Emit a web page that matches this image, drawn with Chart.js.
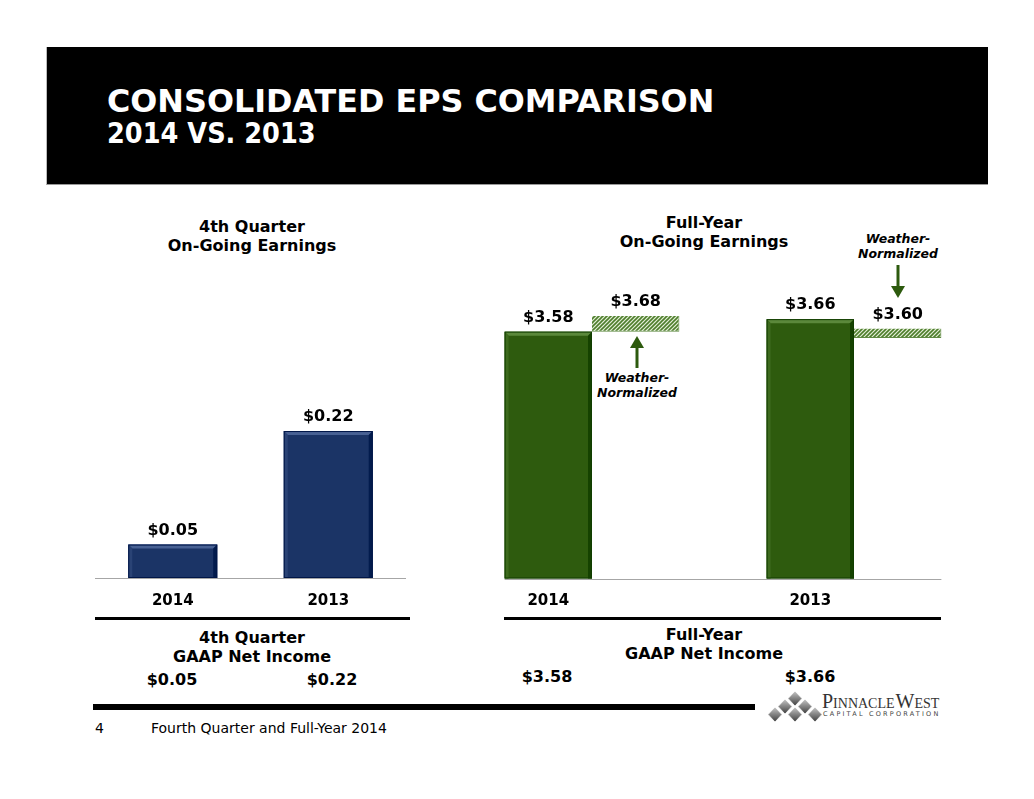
<!DOCTYPE html>
<html>
<head>
<meta charset="utf-8">
<script src="https://cdn.jsdelivr.net/npm/chart.js@4.4.1/dist/chart.umd.min.js"></script>
<style>
  html, body { margin: 0; padding: 0; background: #fff; }
  #slide { position: relative; width: 1034px; height: 799px; overflow: hidden; font-family: "DejaVu Sans", Verdana, sans-serif; color: #000; }
  .header { position: absolute; left: 46px; top: 47px; width: 941px; height: 137px; background: #000; border-bottom: 1px solid #999; border-left: 1px solid #bbb; }
  .title { position: absolute; left: 60px; color: #fff; font-weight: bold; white-space: nowrap; }
  .t { position: absolute; transform: translate(-50%, -50%); white-space: nowrap; font-weight: bold; font-size: 16px; line-height: 19px; text-align: center; }
  .wn { font-size: 12.5px; line-height: 15px; font-style: italic; }
  .rule { position: absolute; height: 3px; background: #000; }
  .box { position: absolute; }
</style>
</head>
<body>
<div id="slide">
  <div class="header">
    <div class="title" style="top: 35px; font-size: 31.8px; font-family: 'DejaVu Sans', sans-serif;">CONSOLIDATED EPS COMPARISON</div>
    <div class="title" style="top: 70px; font-size: 28.5px; font-family: 'DejaVu Sans Condensed', 'DejaVu Sans', sans-serif;">2014 VS. 2013</div>
  </div>

  <div class="t" style="left: 252px; top: 236px;">4th Quarter<br>On-Going Earnings</div>
  <div class="t" style="left: 704px; top: 232px;">Full-Year<br>On-Going Earnings</div>

  <div class="t wn" style="left: 898px; top: 246px;">Weather-<br>Normalized</div>
  <div class="t wn" style="left: 637px; top: 385px;">Weather-<br>Normalized</div>

  <svg class="box" style="left: 0; top: 0;" width="1034" height="799">
    <g fill="#2d5a0e" stroke="#2d5a0e">
      <line x1="637" y1="346" x2="637" y2="368" stroke-width="3"/>
      <polygon points="637,336 630,348 644,348" stroke="none"/>
      <line x1="898" y1="265" x2="898" y2="288" stroke-width="3"/>
      <polygon points="898,298 891,286 905,286" stroke="none"/>
    </g>
  </svg>

  <div class="box" id="qtrBox" style="left: 95px; top: 244px; width: 311px; height: 372px;"><canvas id="qtrChart"></canvas></div>
  <div class="box" id="fyBox" style="left: 461px; top: 265.5px; width: 524px; height: 350.5px;"><canvas id="fyChart"></canvas></div>

  <div class="rule" style="left: 95px; top: 617px; width: 315px;"></div>
  <div class="rule" style="left: 504px; top: 617px; width: 437px;"></div>

  <div class="t" style="left: 252px; top: 647px;">4th Quarter<br>GAAP Net Income</div>
  <div class="t" style="left: 704px; top: 644px;">Full-Year<br>GAAP Net Income</div>
  <div id="gaapLabels"></div>

  <div class="box" style="left: 93px; top: 704px; width: 662px; height: 6px; background: #000;"></div>
  <div class="box" style="left: 95px; top: 720px; font-size: 14px;">4</div>
  <div class="box" style="left: 151px; top: 720px; font-size: 14px;">Fourth Quarter and Full-Year 2014</div>

  <svg class="box" style="left: 767px; top: 689px;" width="56" height="34">
    <defs>
      <linearGradient id="dg" x1="0" y1="0" x2="0" y2="1">
        <stop offset="0" stop-color="#c8c8c8"/>
        <stop offset="1" stop-color="#3c3c3c"/>
      </linearGradient>
    </defs>
    <g fill="url(#dg)" stroke="#fff" stroke-width="0.8">
      <polygon points="28,2 35,9.5 28,17 21,9.5"/>
      <polygon points="18,10 25,17.5 18,25 11,17.5"/>
      <polygon points="38,10 45,17.5 38,25 31,17.5"/>
      <polygon points="8,18 15,25.5 8,33 1,25.5"/>
      <polygon points="28,18 35,25.5 28,33 21,25.5"/>
      <polygon points="48,18 55,25.5 48,33 41,25.5"/>
    </g>
  </svg>
  <div class="box" style="left: 822px; top: 690px; font-family: 'Liberation Serif', serif; font-variant: small-caps; font-size: 20px; color: #333;">Pinnacle<span style="margin-left: 1px;">West</span></div>
  <div class="box" style="left: 823px; top: 710px; font-family: 'DejaVu Sans', sans-serif; font-size: 6.5px; letter-spacing: 2.2px; color: #444;">CAPITAL CORPORATION</div>
</div>

<script>
// 4th quarter on-going EPS
const qtrYears = ['2014', '2013'];
const qtrOngoing = [0.05, 0.22];
const qtrGaap = [0.05, 0.22];

// full-year on-going EPS and weather-normalized figures
const fyYears = ['2014', '2013'];
const fyOngoing = [3.58, 3.66];
const fyWeatherNorm = [3.68, 3.60];
const fyGaap = [3.58, 3.66];

const navy = '#1b3466';
const green = '#2e5b0e';
const hatchDepth = [0.10, 0.06];   // thickness of the weather-normalized markers

const money = v => '$' + v.toFixed(2);

function hatchPattern() {
    const c = document.createElement('canvas');
    c.width = 4; c.height = 4;
    const g = c.getContext('2d');
    g.fillStyle = '#e4eed8';
    g.fillRect(0, 0, 4, 4);
    g.strokeStyle = '#4e7e2c';
    g.lineWidth = 1.6;
    g.beginPath();
    g.moveTo(0, 4); g.lineTo(4, 0);
    g.moveTo(-1, 1); g.lineTo(1, -1);
    g.moveTo(3, 5); g.lineTo(5, 3);
    g.stroke();
    return g.createPattern(c, 'repeat');
}

function shade(hex, amt) {
    const n = parseInt(hex.slice(1), 16);
    const ch = s => Math.max(0, Math.min(255, ((n >> s) & 255) + amt));
    return `rgb(${ch(16)},${ch(8)},${ch(0)})`;
}

// baseline, bevel edges and value labels
const slidePlugin = {
    id: 'slide',
    beforeDatasetsDraw(chart, args, opts) {
        const ctx = chart.ctx;
        let left = chart.chartArea.left, right = chart.chartArea.right;
        if (opts.baseline === 'bars') {
            left = Infinity; right = -Infinity;
            chart.data.datasets.forEach((ds, i) => {
                chart.getDatasetMeta(i).data.forEach(el => {
                    const p = el.getProps(['x', 'width'], true);
                    left = Math.min(left, p.x - p.width / 2);
                    right = Math.max(right, p.x + p.width / 2);
                });
            });
        }
        const y = Math.round(chart.chartArea.bottom) + 0.5;
        ctx.save();
        ctx.strokeStyle = '#a6a6a6';
        ctx.lineWidth = 1;
        ctx.beginPath();
        ctx.moveTo(left, y);
        ctx.lineTo(right, y);
        ctx.stroke();
        ctx.restore();
    },
    afterDatasetsDraw(chart) {
        const ctx = chart.ctx;
        const area = chart.chartArea;
        ctx.save();
        chart.data.datasets.forEach((ds, i) => {
            chart.getDatasetMeta(i).data.forEach((el, j) => {
                const p = el.getProps(['x', 'y', 'base', 'width'], true);
                const l = p.x - p.width / 2, r = p.x + p.width / 2;
                const t = Math.max(area.top, Math.min(p.y, p.base));
                const b = Math.min(area.bottom, Math.max(p.y, p.base));
                if (ds.bevel) {
                    const e = 4;
                    ctx.fillStyle = shade(ds.bevel, 45);
                    ctx.beginPath();
                    ctx.moveTo(l, t); ctx.lineTo(r, t); ctx.lineTo(r - e, t + e); ctx.lineTo(l + e, t + e);
                    ctx.fill();
                    ctx.fillStyle = shade(ds.bevel, 15);
                    ctx.beginPath();
                    ctx.moveTo(l, t); ctx.lineTo(l + e, t + e); ctx.lineTo(l + e, b); ctx.lineTo(l, b);
                    ctx.fill();
                    ctx.fillStyle = shade(ds.bevel, -25);
                    ctx.beginPath();
                    ctx.moveTo(r, t); ctx.lineTo(r, b); ctx.lineTo(r - e, b); ctx.lineTo(r - e, t + e);
                    ctx.fill();
                    ctx.strokeStyle = shade(ds.bevel, -30);
                    ctx.lineWidth = 1;
                    ctx.strokeRect(l + 0.5, t + 0.5, p.width - 1, b - t - 1);
                }
                const raw = ds.data[j];
                const v = Array.isArray(raw) ? raw[1] : raw;
                ctx.fillStyle = '#000';
                ctx.font = 'bold 16px "DejaVu Sans"';
                ctx.textAlign = 'center';
                ctx.textBaseline = 'middle';
                ctx.fillText(money(v), p.x, t - 14);
            });
        });
        ctx.restore();
    }
};

function xAxis(offset) {
    return {
        grid: { display: false },
        border: { display: false },
        ticks: {
            color: '#000',
            font: { family: 'DejaVu Sans', weight: 'bold', size: 15 },
            padding: 6,
            labelOffset: offset
        }
    };
}

const baseOptions = (min, max, offset, baseline) => ({
    responsive: true,
    maintainAspectRatio: false,
    animation: false,
    layout: { padding: 0 },
    plugins: {
        legend: { display: false },
        tooltip: { enabled: false },
        slide: { baseline: baseline }
    },
    scales: {
        x: xAxis(offset),
        y: { display: false, min: min, max: max }
    }
});

new Chart(document.getElementById('qtrChart'), {
    type: 'bar',
    data: {
        labels: qtrYears,
        datasets: [{
            label: 'On-Going Earnings',
            data: qtrOngoing,
            backgroundColor: navy,
            bevel: navy,
            barPercentage: 0.572,
            categoryPercentage: 1
        }]
    },
    options: baseOptions(0, 0.5, 0, 'area'),
    plugins: [slidePlugin]
});

new Chart(document.getElementById('fyChart'), {
    type: 'bar',
    data: {
        labels: fyYears,
        datasets: [{
            label: 'On-Going Earnings',
            data: fyOngoing,
            backgroundColor: green,
            bevel: green,
            barPercentage: 1,
            categoryPercentage: 0.667
        }, {
            label: 'Weather-Normalized',
            data: fyWeatherNorm.map((v, i) => [v - hatchDepth[i], v]),
            backgroundColor: hatchPattern(),
            borderColor: '#5f8a42',
            borderWidth: { top: 0, left: 0, right: 1, bottom: 1 },
            borderSkipped: false,
            barPercentage: 1,
            categoryPercentage: 0.667
        }]
    },
    options: baseOptions(2, 4, -43.7, 'bars'),
    plugins: [slidePlugin]
});

// GAAP net income figures under each chart
const gaapSpots = [
    { vals: qtrGaap, xs: [172, 332], y: 679 },
    { vals: fyGaap, xs: [547, 810], y: 676 }
];
const holder = document.getElementById('gaapLabels');
gaapSpots.forEach(s => {
    s.vals.forEach((v, i) => {
        const d = document.createElement('div');
        d.className = 't';
        d.style.left = s.xs[i] + 'px';
        d.style.top = s.y + 'px';
        d.textContent = money(v);
        holder.appendChild(d);
    });
});
</script>
</body>
</html>
